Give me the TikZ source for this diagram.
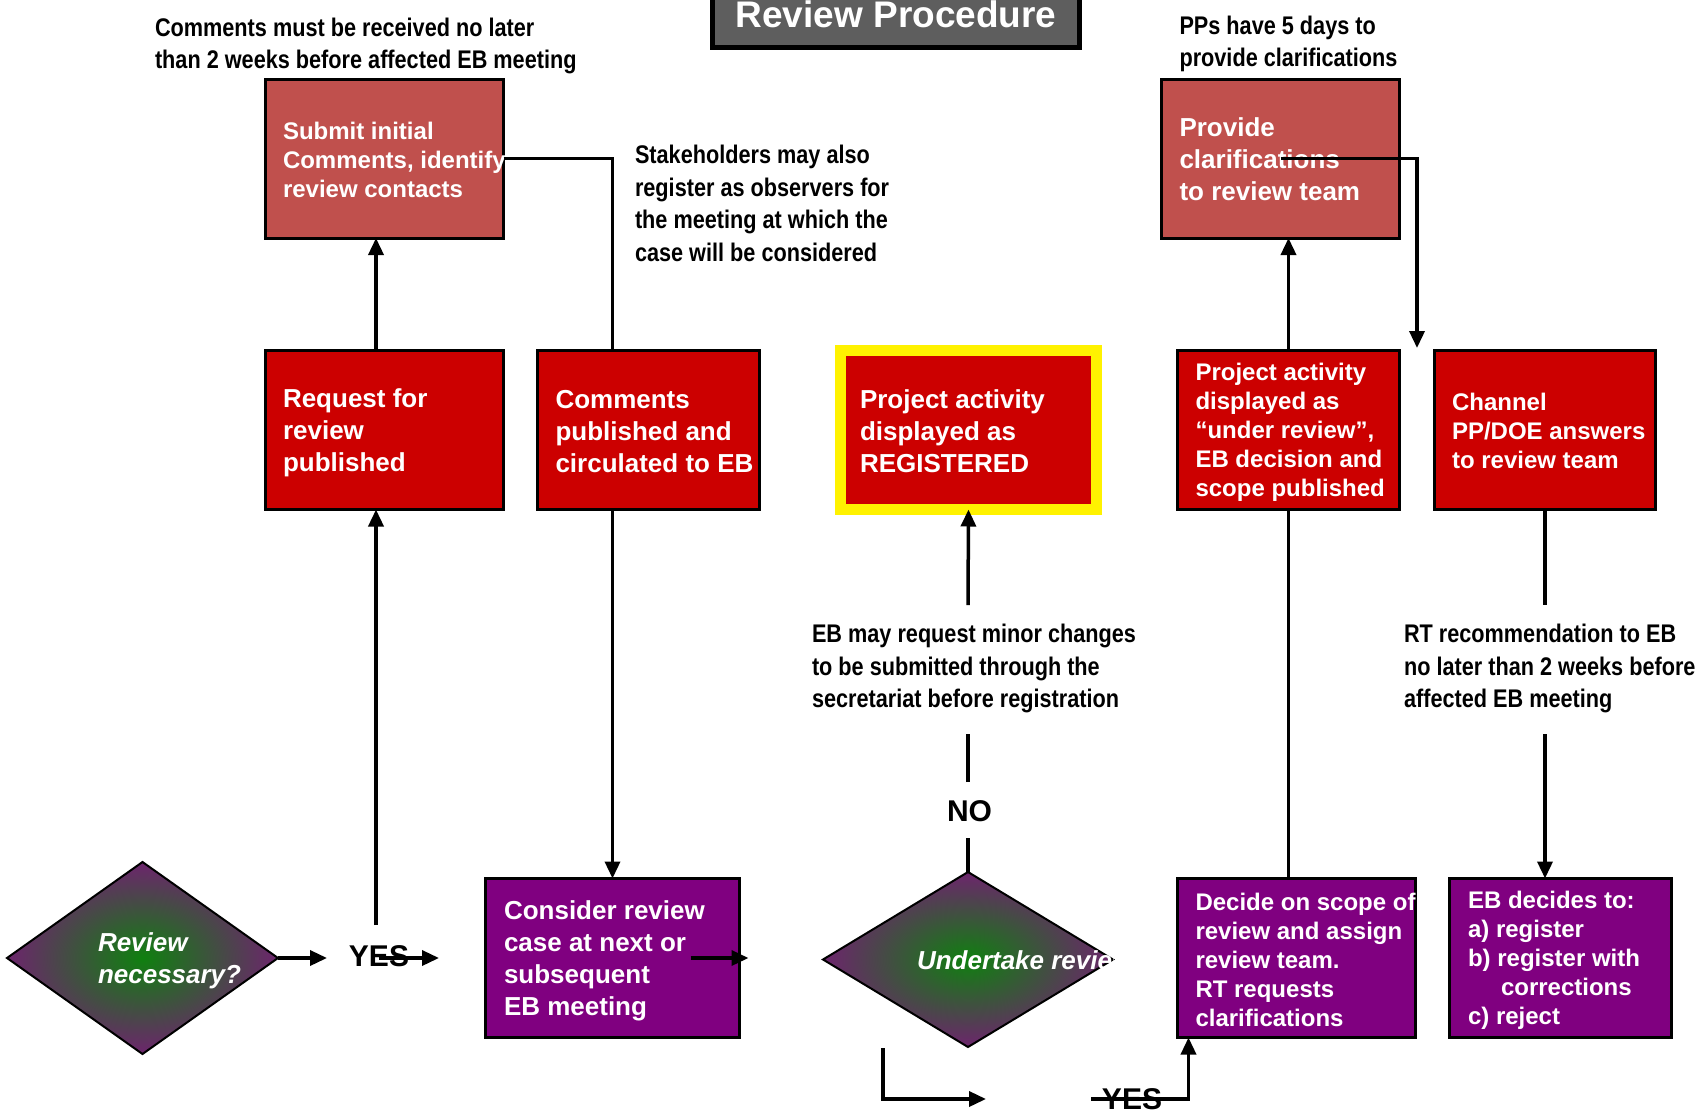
\documentclass[tikz,border=0pt]{standalone}
\usepackage{fontspec}
\setmainfont{Liberation Sans}
\newfontfamily\narrowsans[FakeStretch=0.85]{Liberation Sans}
\usetikzlibrary{shapes.geometric,arrows.meta}
\definecolor{titlegray}{RGB}{94,94,94}
\definecolor{lightred}{RGB}{192,80,77}
\definecolor{boxred}{RGB}{204,0,0}
\definecolor{boxpurple}{RGB}{128,0,128}
\definecolor{diagreen}{RGB}{15,128,15}
\definecolor{diapurple}{RGB}{128,18,128}
\pgfdeclareradialshading{diafill}{\pgfpoint{0bp}{0bp}}{color(0bp)=(diagreen); color(30bp)=(diapurple); color(50bp)=(diapurple)}

\begin{document}
\begin{tikzpicture}[
		x=1pt, y=-1pt,
		every node/.style={inner sep=0pt, outer sep=0pt},
		box/.style={rectangle, draw=black, line width=3pt},
		bigbox/.style={box, minimum width=238pt, minimum height=159pt},
		decision/.style={diamond, draw=black, line width=2pt, shade, shading=diafill},
		note/.style={anchor=west, align=left, font=\narrowsans\bfseries\fontsize{25.5}{32.5}\selectfont},
		answer/.style={font=\bfseries\fontsize{30}{36}\selectfont},
		btext/.style={anchor=west, align=left, text=white, font=\bfseries\fontsize{26}{32}\selectfont},
		stext/.style={btext, font=\bfseries\fontsize{24}{29}\selectfont},
		dtext/.style={btext, font=\bfseries\itshape\fontsize{26}{32}\selectfont},
		conn/.style={line width=3.5pt},
		arr/.style={conn, -{Triangle[length=17pt,width=15pt]}}
		]
		\useasboundingbox (0,0) rectangle (1700,1119);
		\node[box, fill=titlegray, line width=5pt, minimum width=367pt, minimum height=66pt,
			text=white, text height=26.5pt, text depth=0pt,
			font=\bfseries\fontsize{37}{44}\selectfont] (title) at (896,14.5) {Review Procedure};

		\node[note] (commentnote) at (155,46) {Comments must be received no later\\than 2 weeks before affected EB meeting};
		\node[note] (observernote) at (635,203.5) {Stakeholders may also\\register as observers for\\the meeting at which the\\case will be considered};
		\node[note] (daysnote) at (1179.5,44) {PPs have 5 days to\\provide clarifications};
		\node[note] (changenote) at (812,668.5) {EB may request minor changes\\to be submitted through the\\secretariat before registration};
		\node[note] (rtnote) at (1404,668.5) {RT recommendation to EB\\no later than 2 weeks before\\affected EB meeting};

		\node[bigbox, fill=lightred] (submit) at (384.5,158.5) {};
		\node[bigbox, fill=lightred] (provide) at (1280.5,158.5) {};
		\node[bigbox, fill=boxred] (request) at (384.5,430) {};
		\node[box, fill=boxred, minimum width=222pt, minimum height=159pt] (commpub) at (648,430) {};
		\node[box, fill=boxred, draw=yellow, line width=11pt, minimum width=256pt, minimum height=159pt] (registered) at (968.5,430) {};
		\node[box, fill=boxred, minimum width=222pt, minimum height=159pt] (underreview) at (1288.5,430) {};
		\node[box, fill=boxred, minimum width=221pt, minimum height=159pt] (channel) at (1545,430) {};
		\node[box, fill=boxpurple, minimum width=254pt, minimum height=159pt] (consider) at (612.5,958) {};
		\node[bigbox, fill=boxpurple] (decide) at (1296.5,958) {};
		\node[box, fill=boxpurple, minimum width=222pt, minimum height=159pt] (ebdecides) at (1560.5,958) {};

		\node[decision, minimum width=271pt, minimum height=192pt] (necessary) at (142.5,958) {};
		\node[decision, minimum width=290pt, minimum height=175pt] (undertake) at (968,959.5) {};

		\node[stext] (submittxt) at (283,160) {Submit initial\\Comments, identify\\review contacts};
		\node[btext] (providetxt) at (1179.5,159) {Provide\\clarifications\\to review team};
		\node[btext] (requesttxt) at (283,433) {Request for\\review\\published};
		\node[btext] (commpubtxt) at (555.5,432) {Comments\\published and\\circulated to EB};
		\node[btext] (registeredtxt) at (860,431) {Project activity\\displayed as\\REGISTERED};
		\node[stext] (underreviewtxt) at (1195.5,432) {Project activity\\displayed as\\“under review”,\\EB decision and\\scope published};
		\node[stext] (channeltxt) at (1452,431) {Channel\\PP/DOE answers\\to review team};
		\node[btext] (considertxt) at (504,961) {Consider review\\case at next or\\subsequent\\EB meeting};
		\node[stext] (decidetxt) at (1195.5,960) {Decide on scope of\\review and assign\\review team.\\RT requests\\clarifications};
		\node[stext] (ebdecidestxt) at (1468,960) {EB decides to:\\a) register\\b) register with\\\hspace*{33pt}corrections\\c) reject};
		\node[dtext] (necessarytxt) at (98,961) {Review\\necessary?};
		\begin{scope}
			\clip (823,870) rectangle (1113,1050);
			\node[dtext] (undertaketxt) at (917,960) {Undertake review};
		\end{scope}

		\node[answer] (yesleft) at (379,956) {YES};
		\node[answer] (no) at (969.5,811.5) {NO};
		\node[answer] (yesbottom) at (1132,1099.5) {YES};

		\coordinate (yesup) at (376,925);
		\coordinate (yesin) at (327,958);
		\coordinate (yesfrom) at (379,958);
		\coordinate (yesto) at (439,958);
		\coordinate (nobelow) at (968,838);
		\coordinate (noabove) at (968,782);
		\coordinate (noteup) at (968,734);
		\coordinate (notedown) at (968,605);
		\coordinate (clarin) at (1417,348);
		\coordinate (undleft) at (883,1048);
		\coordinate (undright) at (986,1099);
		\coordinate (yesbl) at (1091,1099);

		\draw[arr] ([xshift=-8.5pt]request.north) -- ([xshift=-8.5pt]submit.south);
		\draw[arr] (yesup) -- (yesup |- request.south);
		\draw[arr] (necessary.east) -- (yesin);
		\draw[arr] (yesfrom) -- (yesto);
		\draw[conn] (submit.east) -| (consider.north |- commpub.north);
		\draw[arr] (consider.north |- commpub.south) -- (consider.north);
		\draw[arr] ([xshift=-49pt]consider.east) -- ([xshift=9pt]consider.east);
		\draw[conn] (undertake.north) -- (nobelow);
		\draw[conn] (noabove) -- (noteup);
		\draw[arr] (notedown) -- (registered.south);
		\draw[conn] (channel.south) -- (channel.south |- notedown);
		\draw[arr] (channel.south |- noteup) -- (channel.south |- ebdecides.north);
		\draw[conn] (underreview.south |- decide.north) -- (underreview.south);
		\draw[arr] (underreview.north) -- (underreview.north |- provide.south);
		\draw[arr] (provide.center) -| (clarin);
		\draw[arr] (undleft) |- (undright);
		\draw[arr] (yesbl) -| ([xshift=11pt]decide.south west);
\end{tikzpicture}
\end{document}
